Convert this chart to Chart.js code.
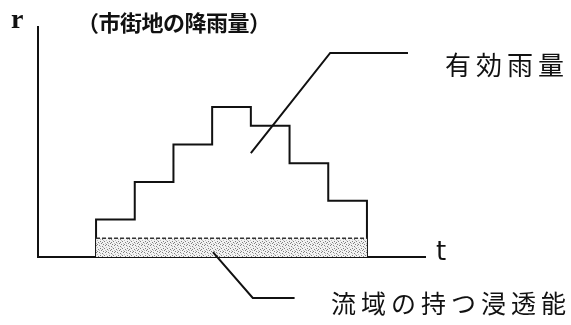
<!DOCTYPE html>
<html><head><meta charset="utf-8">
<script src="https://cdn.jsdelivr.net/npm/chart.js@4/dist/chart.umd.min.js"></script>
<style>html,body{margin:0;padding:0;background:#fff}#wrap{width:571px;height:325px}</style>
</head><body><div id="wrap"><canvas id="c" width="571" height="325"></canvas></div>
<script>
// Data (r in arbitrary units, t in arbitrary units)
const timeEdges = [1.5, 2.5, 3.5, 4.5, 5.5, 6.5, 7.5, 8.5];
const rainfall = [1, 2, 3, 4, 3.5, 2.5, 1.5];
const infiltration = 0.5;
const axisLabels = { y: 'r', x: 't' };
const titleText = '（市街地の降雨量）';
const effectiveLabel = '有効雨量';
const infiltrationLabel = '流域の持つ浸透能';

// build hyetograph outline points
const rainPts = [{x: timeEdges[0], y: 0}];
rainfall.forEach((v, i) => { rainPts.push({x: timeEdges[i], y: v}); rainPts.push({x: timeEdges[i+1], y: v}); });
rainPts.push({x: timeEdges[timeEdges.length-1], y: 0});
const infPts = [{x: timeEdges[0], y: infiltration}, {x: timeEdges[timeEdges.length-1], y: infiltration}];

// stipple pattern
const pc = document.createElement('canvas'); pc.width = 9; pc.height = 7;
const px = pc.getContext('2d');
px.fillStyle = '#f2f2f2'; px.fillRect(0,0,9,7);
px.fillStyle = '#808080';
[[0,0],[3,1],[6,0],[1,3],[5,3],[8,4],[2,5],[4,6],[7,6],[3,4]].forEach(p => px.fillRect(p[0], p[1], 1, 1));
px.fillStyle = '#bdbdbd';
[[1,1],[7,2],[4,2],[0,5],[6,5]].forEach(p => px.fillRect(p[0], p[1], 1, 1));
const pattern = document.getElementById('c').getContext('2d').createPattern(pc, 'repeat');

const annot = {
  id: 'annot',
  afterDraw(chart) {
    const ctx = chart.ctx, xs = chart.scales.x, ys = chart.scales.y;
    const X = v => xs.getPixelForValue(v), Y = v => ys.getPixelForValue(v);
    ctx.save();
    ctx.strokeStyle = '#111'; ctx.lineWidth = 2;
    // leader for effective rainfall
    ctx.beginPath(); ctx.moveTo(X(5.5), Y(2.77)); ctx.lineTo(X(7.55), Y(5.44)); ctx.lineTo(X(9.56), Y(5.44)); ctx.stroke();
    // leader for infiltration
    ctx.beginPath(); ctx.moveTo(X(4.52), Y(0.13)); ctx.lineTo(X(5.55), Y(-1.09)); ctx.lineTo(X(6.63), Y(-1.09)); ctx.stroke();
    ctx.fillStyle = '#111';
    ctx.textBaseline = 'alphabetic';
    ctx.font = 'bold 28px "Liberation Serif"';
    ctx.fillText(axisLabels.y, 11, 28);
    ctx.font = '26px "DejaVu Sans"';
    ctx.fillText(axisLabels.x, 436, 260);
    ctx.textBaseline = 'middle';
    ctx.font = 'bold 22px "Noto Sans CJK JP"';
    ctx.letterSpacing = '-0.5px';
    ctx.fillText(titleText, 77, 23);
    ctx.font = '26px "Noto Sans CJK JP"';
    ctx.letterSpacing = '5px';
    ctx.fillText(effectiveLabel, 445, 65);
    ctx.font = '25px "Noto Sans CJK JP"';
    ctx.letterSpacing = '5px';
    ctx.fillText(infiltrationLabel, 331, 303);
    ctx.restore();
  }
};

new Chart(document.getElementById('c'), {
  type: 'line',
  data: { datasets: [
    { data: infPts, borderColor: '#333', borderWidth: 1.5, borderDash: [4, 2], backgroundColor: pattern, fill: 'origin', pointRadius: 0, tension: 0 },
    { data: rainPts, borderColor: '#111', borderWidth: 2, fill: false, pointRadius: 0, tension: 0 }
  ]},
  options: {
    responsive: false, animation: false, events: [],
    layout: { padding: { left: 38, right: 146, top: 27, bottom: 68 } },
    plugins: { legend: { display: false }, tooltip: { enabled: false } },
    scales: {
      x: { type: 'linear', min: 0, max: 10, ticks: { display: false }, grid: { display: false, drawTicks: false }, border: { display: true, color: '#111', width: 2 } },
      y: { type: 'linear', min: 0, max: 6.13, ticks: { display: false }, grid: { display: false, drawTicks: false }, border: { display: true, color: '#111', width: 2 } }
    }
  },
  plugins: [annot]
});
</script></body></html>
